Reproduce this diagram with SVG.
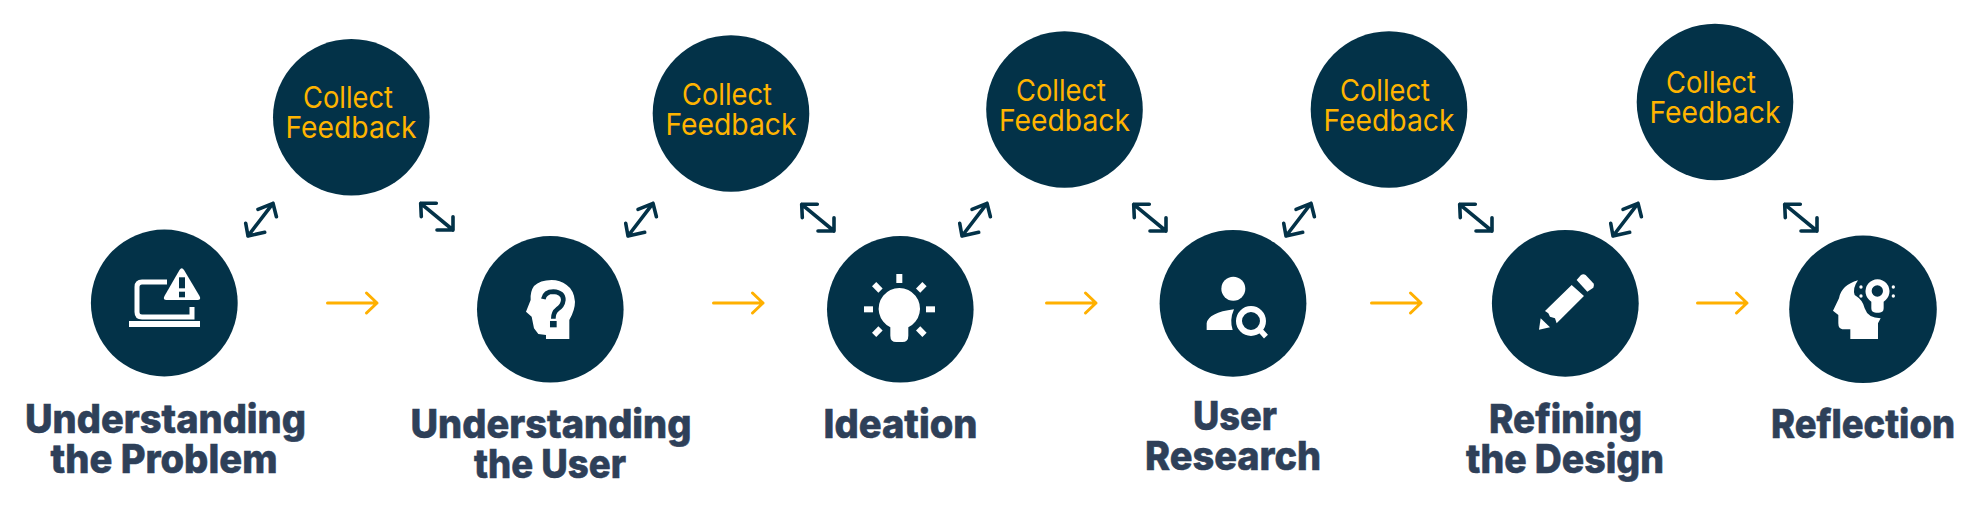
<svg xmlns="http://www.w3.org/2000/svg" width="1973" height="506" viewBox="0 0 1973 506">
<style>
.c{fill:#033248}
.w{fill:#fff}
.n{fill:#033248}
.t{font-family:"Inter","Liberation Sans",sans-serif;font-weight:800;font-size:40px;fill:#2e4059;text-anchor:middle;stroke:#2e4059;stroke-width:.6}
.f{font-family:"Inter","Liberation Sans",sans-serif;font-weight:400;font-size:30px;fill:#ffb400;text-anchor:middle}
.y{fill:none;stroke:#ffb000;stroke-width:3;stroke-linecap:round;stroke-linejoin:round}
.d{fill:none;stroke:#033248;stroke-width:3.6;stroke-linecap:round;stroke-linejoin:round}
</style>
<defs>
<path id="ya" d="M1.500 0H51M40.500-10L51 0L40.500 10"/>
<path id="dl" d="M0 0L25-32.700M-2.300-12.700L0 0L16.700-3.700M10-26.700L25-32.700L28.400-19.300"/>
<path id="dr" d="M0 0L-32.300-26.700M-16.700-26.700L-32.300-26.700L-31.700-13.300M0-13.300L0 0L-16 0"/>
</defs>
<rect width="1973" height="506" fill="#fff"/>
<g id="connectors">
<use href="#ya" class="y" x="326" y="303"/>
<use href="#ya" class="y" x="712" y="303"/>
<use href="#ya" class="y" x="1045" y="303"/>
<use href="#ya" class="y" x="1370" y="303"/>
<use href="#ya" class="y" x="1696" y="303"/>
<use href="#dl" class="d" x="248" y="236"/>
<use href="#dr" class="d" x="453" y="230"/>
<use href="#dl" class="d" x="628" y="236"/>
<use href="#dr" class="d" x="834" y="231"/>
<use href="#dl" class="d" x="962" y="236"/>
<use href="#dr" class="d" x="1166" y="231"/>
<use href="#dl" class="d" x="1286" y="236"/>
<use href="#dr" class="d" x="1492" y="231"/>
<use href="#dl" class="d" x="1613" y="236"/>
<use href="#dr" class="d" x="1817" y="231"/>
</g>
<g id="feedback-1"><circle class="c" cx="351.300" cy="117.300" r="78.300"/><text class="f" x="348" y="108" textLength="90" lengthAdjust="spacingAndGlyphs">Collect</text><text class="f" x="351" y="138" textLength="131" lengthAdjust="spacingAndGlyphs">Feedback</text></g>
<g id="feedback-2"><circle class="c" cx="731" cy="113.500" r="78.300"/><text class="f" x="727" y="104.500" textLength="90" lengthAdjust="spacingAndGlyphs">Collect</text><text class="f" x="731" y="134.500" textLength="131" lengthAdjust="spacingAndGlyphs">Feedback</text></g>
<g id="feedback-3"><circle class="c" cx="1064.500" cy="109.500" r="78.300"/><text class="f" x="1061" y="100.500" textLength="90" lengthAdjust="spacingAndGlyphs">Collect</text><text class="f" x="1064.500" y="130.500" textLength="131" lengthAdjust="spacingAndGlyphs">Feedback</text></g>
<g id="feedback-4"><circle class="c" cx="1389" cy="109.500" r="78.300"/><text class="f" x="1385" y="100.500" textLength="90" lengthAdjust="spacingAndGlyphs">Collect</text><text class="f" x="1389" y="130.500" textLength="131" lengthAdjust="spacingAndGlyphs">Feedback</text></g>
<g id="feedback-5"><circle class="c" cx="1715" cy="102" r="78.300"/><text class="f" x="1711" y="93" textLength="90" lengthAdjust="spacingAndGlyphs">Collect</text><text class="f" x="1715" y="123" textLength="131" lengthAdjust="spacingAndGlyphs">Feedback</text></g>
<g id="step-1">
<circle class="c" cx="164.300" cy="303" r="73.400"/>
<path d="M167 282H142Q137 282 137 287V312Q137 317 142 317H192V307" fill="none" stroke="#fff" stroke-width="5"/>
<rect class="w" x="129" y="321" width="71" height="6"/>
<path class="w" d="M179.500 270Q181.700 266.500 184 270L199.500 296Q201.500 300 197.500 300H166.500Q162.500 300 164.500 296Z"/>
<rect class="n" x="179" y="277.300" width="6" height="11"/><rect class="n" x="179" y="291.700" width="6" height="5.600"/>
<text class="t" x="165.500" y="433" textLength="281" lengthAdjust="spacingAndGlyphs">Understanding</text>
<text class="t" x="164" y="473" textLength="227" lengthAdjust="spacingAndGlyphs">the Problem</text>
</g>
<g id="step-2">
<circle class="c" cx="550.300" cy="309.300" r="73.300"/>
<g transform="translate(460 220) scale(.3333)">
<path class="w" d="M258 357H328V300Q345 270 345 245Q342 210 320 195Q300 180 275 180Q240 180 222 198Q210 215 212 240L198 275L215 290L222 325L235 342L258 345Z"/>
<path d="M250 237Q255 215 280 215Q310 217 310 240Q308 258 292 268Q280 277 280 296" fill="none" stroke="#033248" stroke-width="14"/>
<rect class="n" x="270" y="303" width="20" height="19"/>
</g>
<text class="t" x="551" y="438" textLength="281" lengthAdjust="spacingAndGlyphs">Understanding</text>
<text class="t" x="550" y="478" textLength="152" lengthAdjust="spacingAndGlyphs">the User</text>
</g>
<g id="step-3">
<circle class="c" cx="900.300" cy="309.300" r="73.300"/>
<g transform="translate(810 220) scale(.3333)">
<path class="w" d="M241 322A62 62 0 1 1 295 322V347Q295 366 277 366H259Q241 366 241 347Z"/>
<rect class="w" x="259" y="162" width="18" height="27"/><rect class="w" x="162" y="259" width="27" height="18"/><rect class="w" x="348" y="259" width="27" height="18"/>
<g class="w"><rect x="-13.500" y="-9" width="27" height="18" transform="translate(202 202) rotate(45)"/><rect x="-13.500" y="-9" width="27" height="18" transform="translate(334 202) rotate(-45)"/><rect x="-13.500" y="-9" width="27" height="18" transform="translate(202 335) rotate(-45)"/><rect x="-13.500" y="-9" width="27" height="18" transform="translate(334 335) rotate(45)"/></g>
</g>
<text class="t" x="900.500" y="438" textLength="154" lengthAdjust="spacingAndGlyphs">Ideation</text>
</g>
<g id="step-4">
<circle class="c" cx="1233" cy="303.300" r="73.400"/>
<g transform="translate(1140 220) scale(.3333)">
<circle class="w" cx="280" cy="206" r="36"/>
<path class="w" d="M200 330V310Q205 278 282 268Q268 300 278 330Z"/>
<circle cx="333" cy="303" r="36" fill="none" stroke="#fff" stroke-width="18"/>
<path d="M360 330L378 350" fill="none" stroke="#fff" stroke-width="16"/>
</g>
<text class="t" x="1235" y="430" textLength="84" lengthAdjust="spacingAndGlyphs">User</text>
<text class="t" x="1233" y="470" textLength="176" lengthAdjust="spacingAndGlyphs">Research</text>
</g>
<g id="step-5">
<circle class="c" cx="1565.300" cy="303.300" r="73.400"/>
<g transform="translate(1470 220) scale(.3333)">
<path class="w" d="M305 195L342 228L260 310L255 295L240 290L235 280L225 273Z"/>
<path class="w" d="M333 165Q340 160 347 165L370 190Q375 197 370 203L352 215L320 180Z"/>
<path class="w" d="M212 295L240 322L207 329Z"/>
</g>
<text class="t" x="1565.500" y="433" textLength="153" lengthAdjust="spacingAndGlyphs">Refining</text>
<text class="t" x="1565" y="473" textLength="198" lengthAdjust="spacingAndGlyphs">the Design</text>
</g>
<g id="step-6">
<circle class="c" cx="1863" cy="309.300" r="73.800"/>
<g transform="translate(1773 220) scale(.3333)">
<path class="w" d="M232 357V328H208Q196 326 196 310V285L180 272L198 235Q205 195 255 181Q238 205 245 225Q270 240 275 265Q285 295 323 295L315 310V357Z"/>
<path class="w" fill-rule="evenodd" d="M295 245A36 36 0 1 1 332 245V265Q332 278 318 278H309Q295 278 295 265ZM313 196A17 17 0 1 0 313.010 230A17 17 0 1 0 313 196Z"/>
<circle class="w" cx="264" cy="201" r="5"/><circle class="w" cx="264" cy="228" r="5"/><circle class="w" cx="361" cy="201" r="5"/><circle class="w" cx="361" cy="228" r="5"/>
</g>
<text class="t" x="1863" y="438" textLength="184" lengthAdjust="spacingAndGlyphs">Reflection</text>
</g>
</svg>
